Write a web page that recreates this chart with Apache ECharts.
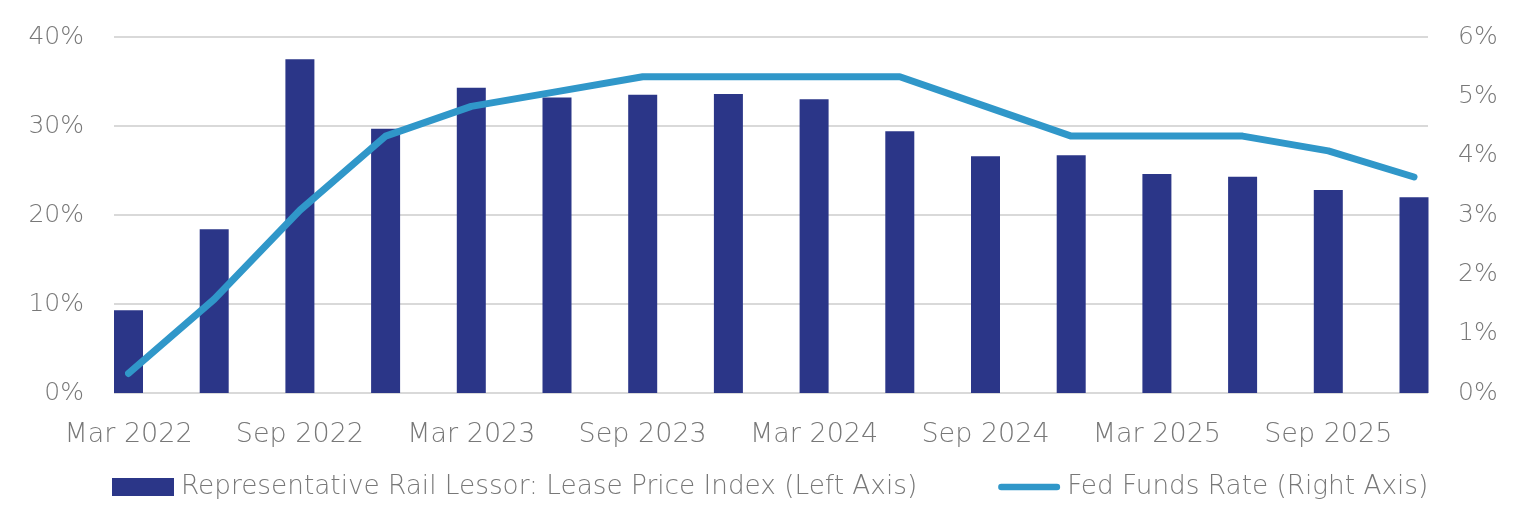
<!DOCTYPE html>
<html>
<head>
<meta charset="utf-8">
<script src="https://cdn.jsdelivr.net/npm/echarts@6/dist/echarts.min.js"></script>
<style>
  html, body { margin: 0; padding: 0; background: #fff; }
  #chart { width: 1516px; height: 516px; }
</style>
</head>
<body>
<div id="chart"></div>
<script>
// quarterly points, Mar 2022 .. Dec 2025
const quarters = [
  'Mar 2022', 'Jun 2022', 'Sep 2022', 'Dec 2022',
  'Mar 2023', 'Jun 2023', 'Sep 2023', 'Dec 2023',
  'Mar 2024', 'Jun 2024', 'Sep 2024', 'Dec 2024',
  'Mar 2025', 'Jun 2025', 'Sep 2025', 'Dec 2025'
]
// lease price index, % (left axis)
const leaseIndex = [9.3, 18.4, 37.5, 29.7, 34.3, 33.2, 33.5, 33.6, 33.0, 29.4, 26.6, 26.7, 24.6, 24.3, 22.8, 22.0]
// fed funds rate, % (right axis)
const fedFunds = [0.33, 1.58, 3.08, 4.33, 4.83, 5.08, 5.33, 5.33, 5.33, 5.33, 4.83, 4.33, 4.33, 4.33, 4.08, 3.64]

const leftTicks = [0, 10, 20, 30, 40]
const rightTicks = [0, 1, 2, 3, 4, 5, 6]

const barName = 'Representative Rail Lessor: Lease Price Index (Left Axis)'
const lineName = 'Fed Funds Rate (Right Axis)'

const font = 'DejaVu Sans'
const weight = 200
const grey = '#787878'
const navy = '#2b3688'
const blue = '#3097c9'

// pill shaped icon for the line entry in the legend
const pill = 'path://M3.5,0 H64.5 A3.5,3.5 0 0 1 64.5,7 H3.5 A3.5,3.5 0 0 1 3.5,0 Z'

const chart = echarts.init(document.getElementById('chart'), null, { renderer: 'canvas' })

const option = {
  animation: false,
  textStyle: { fontFamily: font, fontWeight: weight },
  grid: [
    // grid 0 only carries the gridlines and the axis labels (lines run a bit past the outer bars)
    { left: 114, right: 88, top: 37, bottom: 123 },
    // grid 1 holds the data, ticks sit on the first / last bar centres
    { left: 128.5, right: 102, top: 37, bottom: 123 }
  ],
  legend: {
    left: 112,
    top: 474,
    padding: 0,
    itemWidth: 62,
    itemHeight: 18,
    itemGap: 81,
    symbolKeepAspect: true,
    textStyle: { fontFamily: font, fontWeight: weight, fontSize: 26.3, color: grey, padding: [0, 0, 0, 2] },
    data: [
      { name: barName, icon: 'rect', itemStyle: { color: navy } },
      { name: lineName, icon: pill, itemStyle: { color: blue } }
    ]
  },
  xAxis: [
    { gridIndex: 0, type: 'category', data: quarters, show: false },
    {
      gridIndex: 1,
      type: 'category',
      data: quarters,
      boundaryGap: false,
      axisLine: { show: false },
      axisTick: { show: false },
      axisLabel: {
        interval: 1,
        margin: 28,
        fontSize: 27,
        color: grey,
        fontFamily: font,
        fontWeight: weight
      }
    }
  ],
  yAxis: [
    {
      gridIndex: 0,
      type: 'value',
      position: 'left',
      min: leftTicks[0],
      max: leftTicks[leftTicks.length - 1],
      interval: 10,
      axisLine: { show: false },
      axisTick: { show: false },
      axisLabel: { margin: 30, fontSize: 25, color: grey, fontFamily: font, fontWeight: weight, formatter: '{value}%' },
      splitLine: { lineStyle: { color: '#d9d9d9', width: 2 } }
    },
    {
      gridIndex: 0,
      type: 'value',
      position: 'right',
      min: rightTicks[0],
      max: rightTicks[rightTicks.length - 1],
      interval: 1,
      axisLine: { show: false },
      axisTick: { show: false },
      axisLabel: { margin: 30, fontSize: 25, color: grey, fontFamily: font, fontWeight: weight, formatter: '{value}%' },
      splitLine: { show: false }
    },
    { gridIndex: 1, type: 'value', min: 0, max: 40, show: false },
    { gridIndex: 1, type: 'value', min: 0, max: 6, show: false, position: 'right' }
  ],
  series: [
    {
      name: barName,
      type: 'bar',
      xAxisIndex: 1,
      yAxisIndex: 2,
      data: leaseIndex,
      barWidth: 29,
      clip: false,
      itemStyle: { color: navy }
    },
    {
      name: lineName,
      type: 'line',
      xAxisIndex: 1,
      yAxisIndex: 3,
      data: fedFunds,
      symbol: 'none',
      clip: false,
      z: 5,
      lineStyle: { color: blue, width: 7, cap: 'round', join: 'round' },
      itemStyle: { color: blue }
    }
  ]
}

chart.setOption(option)
</script>
</body>
</html>
